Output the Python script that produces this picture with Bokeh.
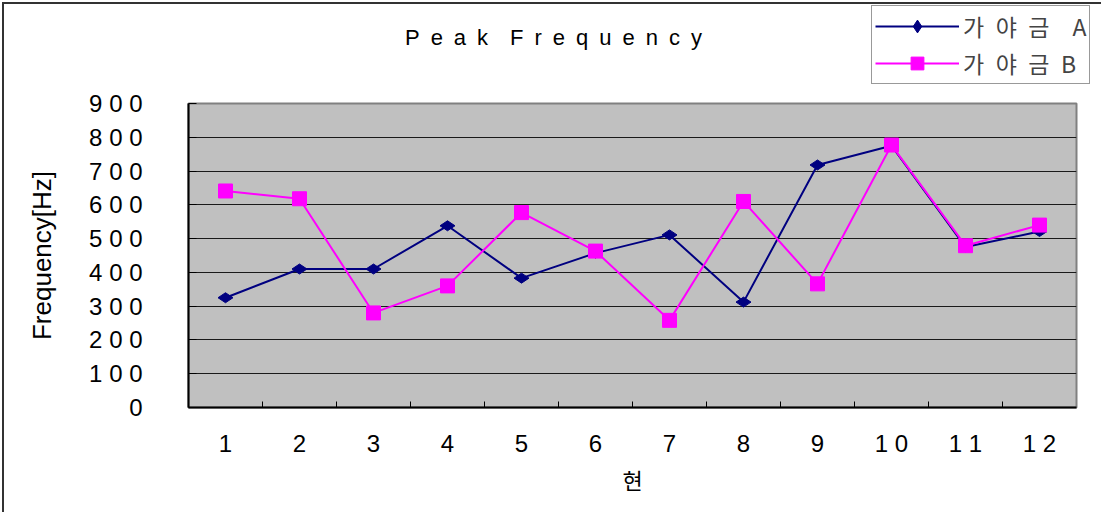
from bokeh.plotting import figure
from bokeh.layouts import column, row
from bokeh.models import (Range1d, FixedTicker, Legend, LegendItem, Label,
                          ColumnDataSource)
from bokeh.embed import file_html
from bokeh.resources import INLINE

# Peak frequency of each string for two gayageum instruments
strings = ["1", "2", "3", "4", "5", "6", "7", "8", "9", "10", "11", "12"]
gayageum_a = [325, 410, 410, 538, 383, 457, 511, 312, 718, 775, 475, 521]
gayageum_b = [641, 618, 280, 360, 577, 463, 258, 610, 366, 777, 479, 540]
y_ticks = [0, 100, 200, 300, 400, 500, 600, 700, 800, 900]

FONT = "Liberation Sans"
KR_FONT = "Noto Sans CJK KR"
EN = "\u2002"
NAVY = "#000080"
MAGENTA = "#FF00FF"

series_names = ["가" + EN + "야" + EN + "금" + EN * 2 + "A",
                "가" + EN + "야" + EN + "금" + EN + "B"]


def spaced(s, sep=" "):
    return sep.join(s)


xs = list(range(1, len(strings) + 1))
src = ColumnDataSource(dict(x=xs, a=gayageum_a, b=gayageum_b))


def add_series(fig):
    la = fig.line("x", "a", source=src, line_color=NAVY, line_width=2)
    ma = fig.scatter("x", "a", source=src, marker="diamond", size=15,
                     angle=1.5708, fill_color=NAVY, line_color=NAVY)
    lb = fig.line("x", "b", source=src, line_color=MAGENTA, line_width=2)
    mb = fig.scatter("x", "b", source=src, marker="square", size=14,
                     fill_color=MAGENTA, line_color=MAGENTA)
    return (la, ma), (lb, mb)


def bare_figure(w, h, **kw):
    f = figure(width=w, height=h, output_backend="svg", toolbar_location=None,
               x_axis_type=None, y_axis_type=None, title_location=None,
               min_border=0, **kw)
    f.outline_line_color = None
    f.background_fill_color = "white"
    f.border_fill_color = "white"
    f.xgrid.grid_line_color = None
    f.ygrid.grid_line_color = None
    return f


# ---- main chart -------------------------------------------------------
p = figure(width=1097, height=423, output_backend="svg", toolbar_location=None,
           x_range=Range1d(0.5, len(strings) + 0.5), y_range=Range1d(0, 900),
           min_border_left=184, min_border_right=25,
           min_border_top=14, min_border_bottom=105)

p.background_fill_color = "#C0C0C0"
p.border_fill_color = "white"
p.outline_line_color = "#808080"
p.outline_line_width = 2

# x axis: labels at string centres, small ticks between strings
p.xaxis.ticker = FixedTicker(ticks=xs, minor_ticks=[x + 0.5 for x in xs[:-1]])
p.xaxis.major_label_overrides = {x: spaced(s) for x, s in zip(xs, strings)}
p.xaxis.major_tick_in = 0
p.xaxis.major_tick_out = 0
p.xaxis.minor_tick_in = 6
p.xaxis.minor_tick_out = 0
p.xaxis.minor_tick_line_color = "black"
p.xaxis.axis_line_color = "black"
p.xaxis.axis_line_width = 2
p.xaxis.major_label_text_font = FONT
p.xaxis.major_label_text_font_size = "24px"
p.xaxis.major_label_text_color = "black"
p.xaxis.major_label_standoff = 22
p.xaxis.axis_label = "현"
p.xaxis.axis_label_text_font = KR_FONT
p.xaxis.axis_label_text_font_size = "22px"
p.xaxis.axis_label_text_font_style = "normal"
p.xaxis.axis_label_text_color = "black"
p.xaxis.axis_label_standoff = 3

# y axis
p.yaxis.ticker = FixedTicker(ticks=y_ticks)
p.yaxis.major_label_overrides = {t: spaced(str(t)) for t in y_ticks}
p.yaxis.major_tick_in = 8
p.yaxis.major_tick_out = 0
p.yaxis.minor_tick_line_color = None
p.yaxis.axis_line_color = "black"
p.yaxis.axis_line_width = 2
p.yaxis.major_label_text_font = FONT
p.yaxis.major_label_text_font_size = "24px"
p.yaxis.major_label_text_color = "black"
p.yaxis.major_label_standoff = 46
p.yaxis.axis_label = "Frequency[Hz]"
p.yaxis.axis_label_text_font = FONT
p.yaxis.axis_label_text_font_size = "26px"
p.yaxis.axis_label_text_font_style = "normal"
p.yaxis.axis_label_text_color = "black"
p.yaxis.axis_label_standoff = 29

p.xgrid.grid_line_color = None
p.ygrid.grid_line_color = "#1a1a1a"
p.ygrid.grid_line_width = 1

add_series(p)

# ---- title strip --------------------------------------------------------
head = bare_figure(867, 85)
head.add_layout(Label(x=549, y=52, x_units="screen", y_units="screen",
                      text=spaced("Peak", EN) + EN * 2 + spaced("Frequency", EN),
                      text_font=FONT, text_font_size="22px",
                      text_align="center", text_baseline="middle",
                      text_color="black"))

# ---- legend box -----------------------------------------------------------
key = bare_figure(230, 85, x_range=Range1d(-20, -10), y_range=Range1d(0, 900))
(la, ma), (lb, mb) = add_series(key)
legend = Legend(items=[LegendItem(label=series_names[0], renderers=[la, ma]),
                       LegendItem(label=series_names[1], renderers=[lb, mb])],
                location=(0, 5), orientation="vertical",
                label_text_font=KR_FONT, label_text_font_size="23px",
                glyph_width=84, glyph_height=32, label_height=32,
                label_standoff=4, spacing=3, padding=3, margin=0,
                border_line_color="#333333", border_line_width=1,
                background_fill_color="white", background_fill_alpha=1)
key.add_layout(legend, "center")

page = column(row(head, key), p)
page.styles = {"margin-left": "2px", "margin-top": "2px",
               "border-left": "2px solid #333333",
               "border-top": "2px solid #333333"}

open("out.html", "w").write(file_html(page, INLINE))
